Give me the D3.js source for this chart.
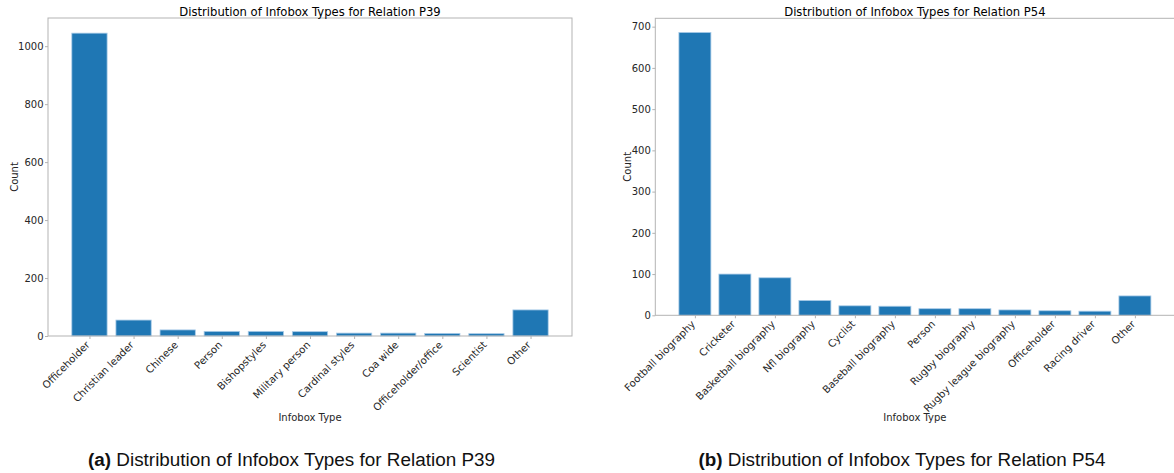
<!DOCTYPE html>
<html>
<head>
<meta charset="utf-8">
<script src="https://cdn.jsdelivr.net/npm/d3@7"></script>
<style>
  html, body { margin: 0; padding: 0; background: #fff; }
  svg { display: block; }
</style>
</head>
<body>
<svg id="fig" width="1174" height="473"></svg>
<script>
// Infobox type counts for relation P39
const p39Categories = ["Officeholder", "Christian leader", "Chinese", "Person", "Bishopstyles",
  "Military person", "Cardinal styles", "Coa wide", "Officeholder/office", "Scientist", "Other"];
const p39Counts = [1045, 55, 21, 16, 16, 15, 10, 10, 9, 8, 90];
const p39Ticks = [0, 200, 400, 600, 800, 1000];

// Infobox type counts for relation P54
const p54Categories = ["Football biography", "Cricketer", "Basketball biography", "Nfl biography",
  "Cyclist", "Baseball biography", "Person", "Rugby biography", "Rugby league biography",
  "Officeholder", "Racing driver", "Other"];
const p54Counts = [686, 100, 91, 36, 23, 22, 16, 16, 13, 11, 10, 47];
const p54Ticks = [0, 100, 200, 300, 400, 500, 600, 700];

const titles = ["Distribution of Infobox Types for Relation P39",
                "Distribution of Infobox Types for Relation P54"];
const captions = [["(a)", " Distribution of Infobox Types for Relation P39"],
                  ["(b)", " Distribution of Infobox Types for Relation P54"]];

const svg = d3.select("#fig");
const FONT = "DejaVu Sans, sans-serif";
const BAR = "#1f77b4";
const SPINE = "#b3b3b3";
const INK = "#262626";

function panel(cfg) {
  const { left, right, top, bottom, cats, vals, ticks, title, caption, capX } = cfg;
  const g = svg.append("g");
  const n = cats.length;
  // bar centres at integer positions, 0.8 wide, 5% margins like a default bar plot
  const lo = -0.4 - 0.05 * (n - 1 + 0.8), hi = n - 1 + 0.4 + 0.05 * (n - 1 + 0.8);
  const x = d3.scaleLinear().domain([lo, hi]).range([left, right]);
  const yMax = d3.max(vals) * 1.05;
  const y = d3.scaleLinear().domain([0, yMax]).range([bottom, top]);

  // bars
  g.selectAll("rect.bar").data(vals).join("rect")
    .attr("class", "bar")
    .attr("x", (d, i) => x(i - 0.4))
    .attr("width", (d, i) => x(i + 0.4) - x(i - 0.4))
    .attr("y", d => y(d))
    .attr("height", d => y(0) - y(d))
    .attr("fill", BAR)
    .attr("stroke", "#a9cbe8")
    .attr("stroke-width", 0.8);

  // y axis
  const yAxis = d3.axisLeft(y).tickValues(ticks).tickSize(3).tickPadding(1.5).tickFormat(d3.format("d"));
  const ya = g.append("g").attr("transform", `translate(${left},0)`).call(yAxis);
  ya.select(".domain").remove();
  ya.selectAll(".tick line").attr("stroke", SPINE);
  ya.selectAll(".tick text").attr("fill", INK).style("font-family", FONT).style("font-size", "10px");

  // x axis with labels turned 45 degrees, right end at the tick
  const xAxis = d3.axisBottom(x).tickValues(d3.range(n)).tickSize(3).tickFormat(i => cats[i]);
  const xa = g.append("g").attr("transform", `translate(0,${bottom})`).call(xAxis);
  xa.select(".domain").remove();
  xa.selectAll(".tick line").attr("stroke", SPINE);
  xa.selectAll(".tick text")
    .attr("fill", INK)
    .style("font-family", FONT).style("font-size", "10.2px")
    .attr("text-anchor", "end")
    .attr("dominant-baseline", "central")
    .attr("dy", null)
    .attr("y", null)
    .attr("transform", "translate(-2,7) rotate(-45)");

  // spines
  g.append("rect")
    .attr("x", left).attr("y", top)
    .attr("width", right - left).attr("height", bottom - top)
    .attr("fill", "none").attr("stroke", SPINE).attr("stroke-width", 1);

  // titles and axis labels
  const cx = (left + right) / 2;
  g.append("text").attr("x", cx).attr("y", top - 2)
    .attr("text-anchor", "middle").attr("fill", "#000")
    .style("font-family", FONT).style("font-size", "11.6px").text(title);
  g.append("text").attr("x", cx).attr("y", 421)
    .attr("text-anchor", "middle").attr("fill", INK)
    .style("font-family", FONT).style("font-size", "10px").text("Infobox Type");
  g.append("text")
    .attr("transform", `translate(${cfg.countX},${(top + bottom) / 2}) rotate(-90)`)
    .attr("text-anchor", "middle").attr("fill", INK)
    .style("font-family", FONT).style("font-size", "10px").text("Count");

  // caption
  const cap = g.append("text").attr("x", capX).attr("y", 466)
    .attr("text-anchor", "middle").attr("fill", "#111")
    .style("font-family", "Liberation Sans, Arial, sans-serif").style("font-size", "18px")
    .attr("textLength", 407).attr("lengthAdjust", "spacingAndGlyphs");
  cap.append("tspan").style("font-weight", "bold").text(caption[0]);
  cap.append("tspan").text(caption[1]);
}

panel({ left: 48, right: 572, top: 18, bottom: 336, cats: p39Categories, vals: p39Counts,
  ticks: p39Ticks, title: titles[0], caption: captions[0], capX: 291.5, countX: 18 });
panel({ left: 655.3, right: 1174.5, top: 18.3, bottom: 315.3, cats: p54Categories, vals: p54Counts,
  ticks: p54Ticks, title: titles[1], caption: captions[1], capX: 902, countX: 631 });
</script>
</body>
</html>
